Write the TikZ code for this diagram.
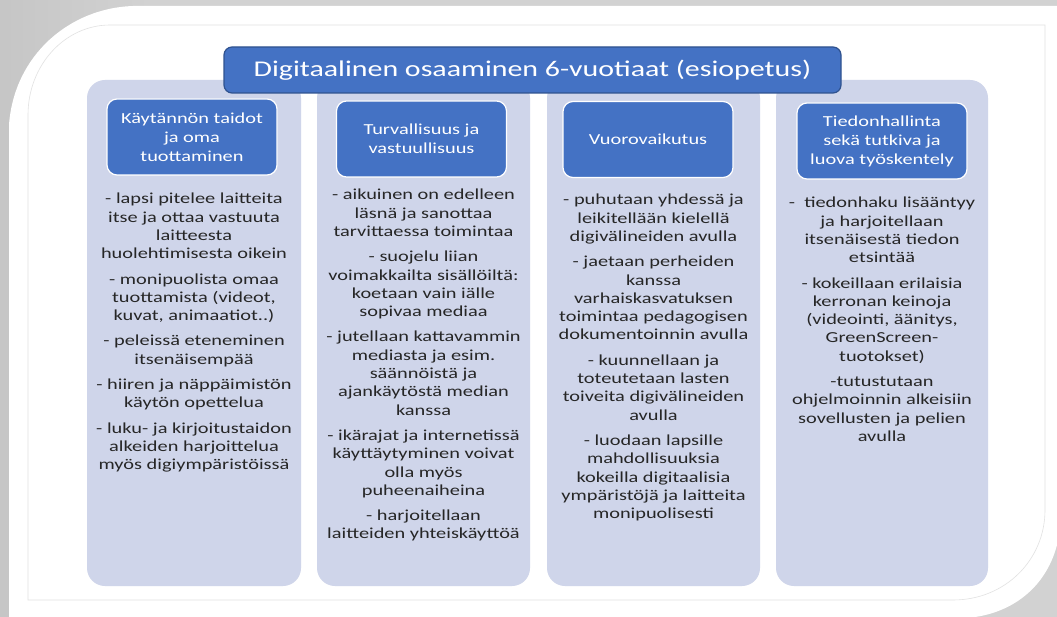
\documentclass[tikz,border=0pt]{standalone}
\usepackage{fontspec}
\setmainfont{Carlito}[FakeStretch=1.33]
\definecolor{officeblue}{HTML}{4472C4}
\definecolor{darkblue}{HTML}{2F528F}
\definecolor{lavender}{HTML}{CFD5EA}
\definecolor{shadowgray}{HTML}{D2D2D2}
\definecolor{linegray}{HTML}{E2E2E2}
\definecolor{bodytext}{HTML}{262626}

\begin{document}
\begin{tikzpicture}[x=1pt,y=-1pt,
  column/.style={fill=lavender,rounded corners=18pt},
  head/.style={rectangle,rounded corners=10pt,fill=officeblue,draw=white,line width=1.2pt,
    text=white,align=center,minimum width=170pt,minimum height=76pt,inner sep=2pt,
    font=\fontsize{15.3}{19}\selectfont},
  body/.style={align=center,text=bodytext,inner sep=0pt,font=\fontsize{15.3}{18.3}\selectfont}]
\useasboundingbox (0,0) rectangle (1057,617);

% page with the curled shadow
\shade[left color=gray!45,right color=shadowgray] (0,0) rectangle (150,617);
\fill[shadowgray] (150,0) rectangle (1057,617);
\fill[white] (133,6) -- (1057,6) -- (1057,545) .. controls (1045,590) and (1010,612) .. (975,617)
  -- (9,617) -- (9,125) .. controls (14,55) and (70,8) .. (133,6) -- cycle;
\draw[linegray,line width=0.6pt] (110,25) -- (1045,25) -- (1045,510)
  .. controls (1045,560) and (1005,600) .. (953,600) -- (28,600) -- (28,115)
  .. controls (28,65) and (65,25) .. (110,25) -- cycle;

% columns
\fill[column] (87,80)  rectangle (301,586);
\fill[column] (317,80) rectangle (530,586);
\fill[column] (547,80) rectangle (760,586);
\fill[column] (776,80) rectangle (988,586);

\node[rectangle,rounded corners=8pt,fill=officeblue,draw=darkblue,line width=1.2pt,
  minimum width=617pt,minimum height=46pt,text=white,font=\fontsize{22.5}{27}\selectfont]
  (title) at (532.5,70) {Digitaalinen osaaminen 6-vuotiaat (esiopetus)};

% headers
\node[head] (kaytanto) at (192,137)   {Käytännön taidot\\ja oma\\tuottaminen};
\node[head] (turva)    at (421.5,139) {Turvallisuus ja\\vastuullisuus};
\node[head] (vuoro)    at (648,139.5) {Vuorovaikutus};
\node[head] (tieto)    at (882,141)   {Tiedonhallinta\\sekä tutkiva ja\\luova työskentely};

% texts
\node[body,anchor=north] (kaytantoTxt) at (194,193) {- lapsi  pitelee laitteita\\itse ja ottaa vastuuta\\laitteesta\\huolehtimisesta oikein\\[7pt]
  - monipuolista omaa\\tuottamista (videot,\\kuvat, animaatiot..)\\[7pt]
  - peleissä eteneminen\\itsenäisempää\\[7pt]
  - hiiren ja näppäimistön\\käytön opettelua\\[7pt]
  - luku- ja kirjoitustaidon\\alkeiden harjoittelua\\myös digiympäristöissä};
\node[body,anchor=north] (turvaTxt) at (423.5,189) {- aikuinen on edelleen\\läsnä ja sanottaa\\tarvittaessa toimintaa\\[7pt]
  - suojelu liian\\voimakkailta sisällöiltä:\\koetaan vain iälle\\sopivaa mediaa\\[7pt]
  - jutellaan kattavammin\\mediasta ja esim.\\säännöistä ja\\ajankäytöstä median\\kanssa\\[7pt]
  - ikärajat ja internetissä\\käyttäytyminen voivat\\olla myös\\puheenaiheina\\[7pt]
  - harjoitellaan\\laitteiden yhteiskäyttöä};
\node[body,anchor=north] (vuoroTxt) at (653.5,194) {- puhutaan yhdessä ja\\leikitellään kielellä\\digivälineiden avulla\\[7pt]
  - jaetaan perheiden\\kanssa\\varhaiskasvatuksen\\toimintaa pedagogisen\\dokumentoinnin avulla\\[7pt]
  - kuunnellaan ja\\toteutetaan lasten\\toiveita digivälineiden\\avulla\\[7pt]
  - luodaan lapsille\\mahdollisuuksia\\kokeilla digitaalisia\\ympäristöjä ja laitteita\\monipuolisesti};
\node[body,anchor=north] (tietoTxt) at (882,197) {-\ \ tiedonhaku lisääntyy\\ja harjoitellaan\\itsenäisestä tiedon\\etsintää\\[7pt]
  - kokeillaan erilaisia\\kerronan keinoja\\(videointi, äänitys,\\GreenScreen-\\tuotokset)\\[7pt]
  -tutustutaan\\ohjelmoinnin alkeisiin\\sovellusten ja pelien\\avulla};

\end{tikzpicture}
\end{document}
